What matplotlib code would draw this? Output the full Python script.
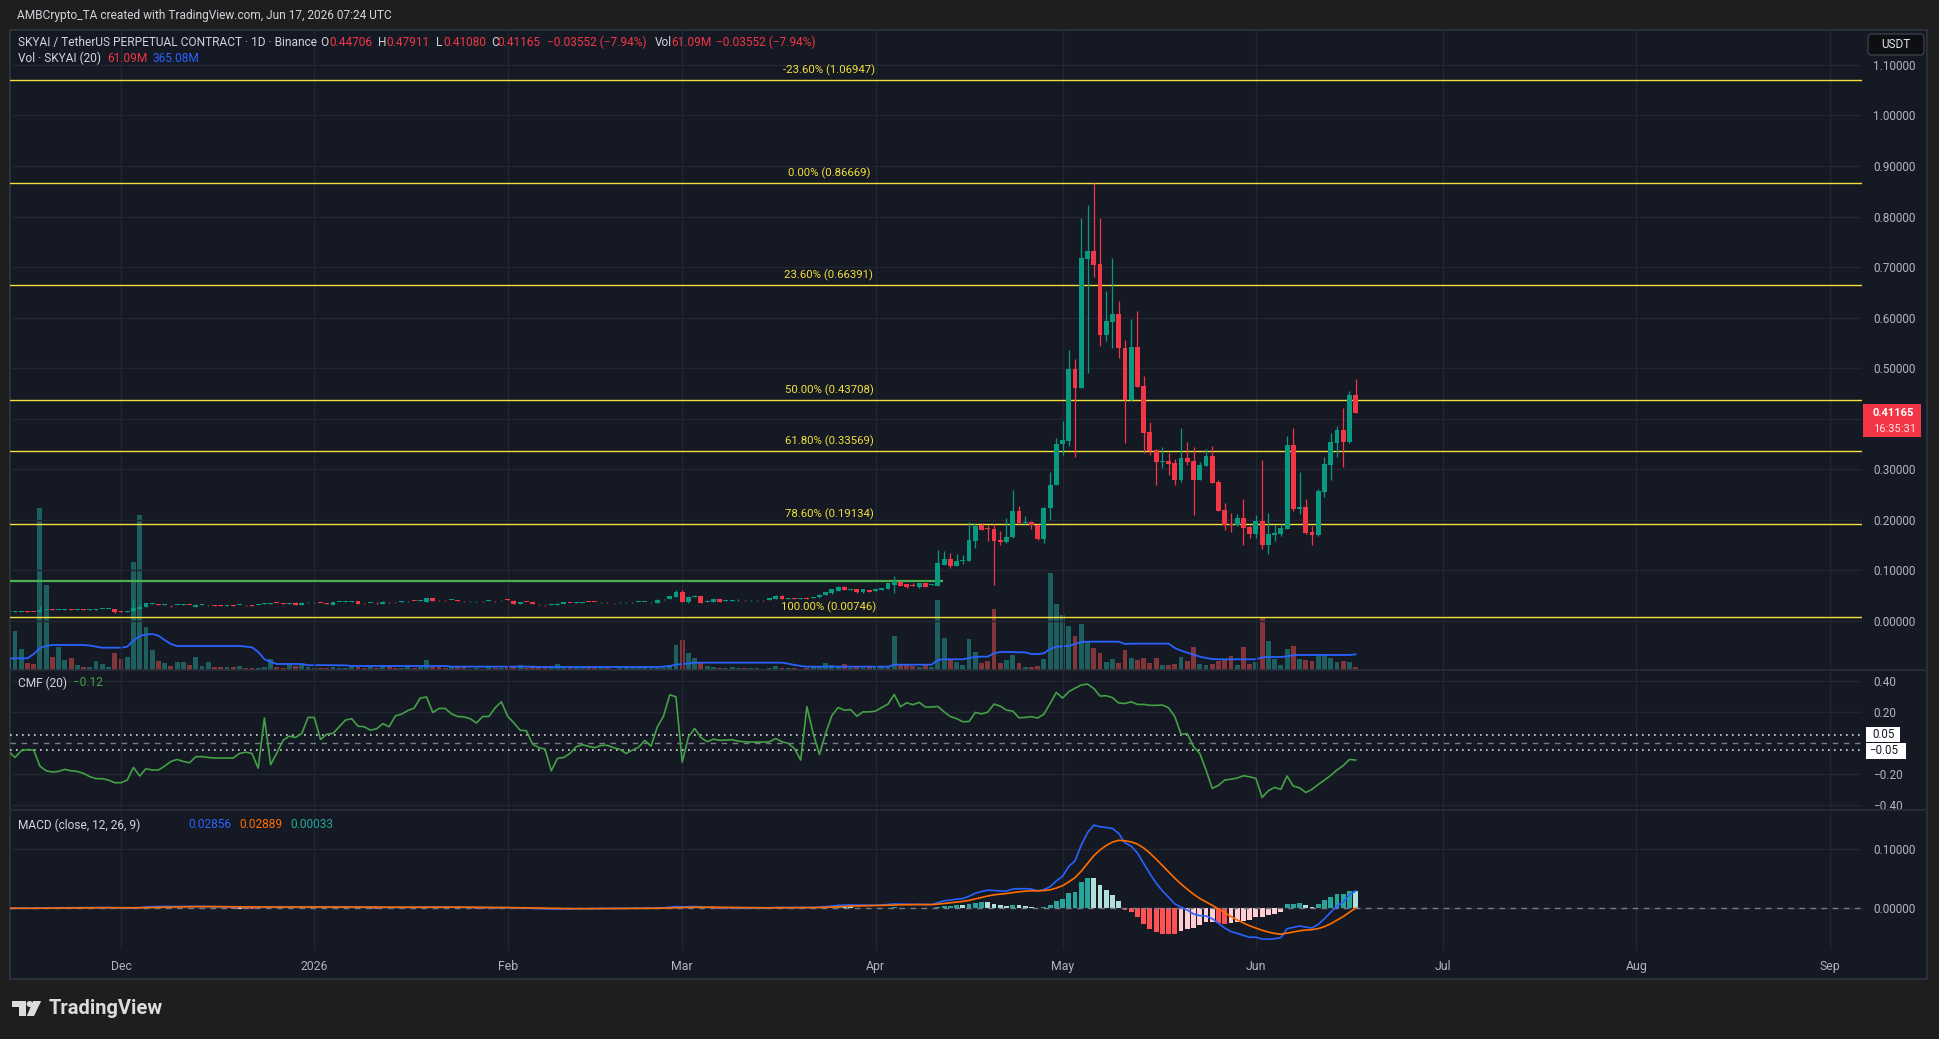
import numpy as np
import pandas as pd
import matplotlib
matplotlib.use("Agg")
import matplotlib.pyplot as plt
import matplotlib.dates as mdates
from matplotlib.patches import Rectangle, FancyBboxPatch, Polygon, Circle

plt.rcParams['font.family'] = ['Roboto', 'DejaVu Sans']

# ---------------- data (daily candles from 2025-11-13) ----------------
start_date = "2025-11-13"

open_ = [
 0.0180,0.0182,0.0186,0.0195,0.0180,0.0185,0.0218,0.0222,0.0215,0.0222,
 0.0226,0.0218,0.0224,0.0218,0.0226,0.0231,0.0235,0.0231,0.0185,0.0182,
 0.0190,0.0240,0.0284,0.0336,0.0336,0.0325,0.0300,0.0310,0.0317,0.0320,
 0.0284,0.0317,0.0308,0.0306,0.0306,0.0300,0.0305,0.0312,0.0312,0.0310,
 0.0318,0.0340,0.0345,0.0360,0.0348,0.0340,0.0363,0.0310,0.0366,0.0368,
 0.0360,0.0346,0.0323,0.0374,0.0376,0.0380,0.0396,0.0352,0.0352,0.0363,
 0.0343,0.0372,0.0372,0.0384,0.0386,0.0400,0.0392,0.0382,0.0455,0.0412,
 0.0412,0.0412,0.0409,0.0392,0.0386,0.0388,0.0392,0.0398,0.0392,0.0406,
 0.0420,0.0402,0.0343,0.0378,0.0376,0.0334,0.0314,0.0318,0.0310,0.0330,
 0.0360,0.0358,0.0365,0.0378,0.0378,0.0367,0.0372,0.0352,0.0366,0.0366,
 0.0368,0.0374,0.0374,0.0366,0.0363,0.0426,0.0429,0.0481,0.0574,0.0382,
 0.0470,0.0495,0.0370,0.0380,0.0430,0.0398,0.0398,0.0405,0.0412,0.0406,
 0.0406,0.0412,0.0410,0.0442,0.0500,0.0442,0.0458,0.0430,0.0462,0.0452,
 0.0468,0.0508,0.0547,0.0600,0.0679,0.0620,0.0627,0.0567,0.0613,0.0600,
 0.0613,0.0633,0.0712,0.0778,0.0732,0.0712,0.0666,0.0745,0.0712,0.0693,
 0.1108,0.1226,0.1090,0.1190,0.1187,0.1590,0.1890,0.1830,0.1820,0.1600,
 0.1570,0.1660,0.2180,0.1930,0.1960,0.1900,0.1620,0.2240,0.2690,0.3500,
 0.3560,0.4990,0.4610,0.7160,0.7320,0.7060,0.5660,0.5920,0.6070,0.5400,
 0.4370,0.5420,0.4650,0.3740,0.3380,0.3150,0.3160,0.3130,0.2790,0.3220,
 0.3160,0.2790,0.3070,0.3260,0.2750,0.2200,0.1920,0.1900,0.2040,0.1860,
 0.1720,0.1980,0.1500,0.1700,0.1720,0.1820,0.3480,0.2220,0.2260,0.1760,
 0.1700,0.2550,0.3090,0.3520,0.3780,0.3540,0.44706]

high_ = [
 0.0188,0.0192,0.0204,0.0198,0.0184,0.0297,0.0240,0.0228,0.0228,0.0232,
 0.0230,0.0230,0.0228,0.0232,0.0236,0.0242,0.0244,0.0236,0.0190,0.0206,
 0.0416,0.0330,0.0356,0.0348,0.0342,0.0336,0.0306,0.0322,0.0326,0.0324,
 0.0330,0.0326,0.0318,0.0310,0.0310,0.0310,0.0308,0.0322,0.0316,0.0314,
 0.0328,0.0356,0.0358,0.0364,0.0352,0.0350,0.0368,0.0368,0.0378,0.0380,
 0.0364,0.0350,0.0382,0.0384,0.0386,0.0390,0.0400,0.0356,0.0362,0.0366,
 0.0388,0.0376,0.0376,0.0398,0.0396,0.0404,0.0406,0.0462,0.0460,0.0416,
 0.0416,0.0424,0.0412,0.0396,0.0396,0.0396,0.0396,0.0408,0.0396,0.0416,
 0.0428,0.0406,0.0382,0.0382,0.0380,0.0338,0.0318,0.0328,0.0348,0.0374,
 0.0364,0.0368,0.0374,0.0382,0.0382,0.0376,0.0376,0.0356,0.0376,0.0376,
 0.0376,0.0382,0.0384,0.0376,0.0428,0.0438,0.0502,0.0613,0.0613,0.0474,
 0.0510,0.0500,0.0406,0.0436,0.0434,0.0410,0.0410,0.0442,0.0416,0.0414,
 0.0414,0.0416,0.0452,0.0504,0.0504,0.0452,0.0462,0.0462,0.0466,0.0472,
 0.0524,0.0578,0.0632,0.0686,0.0684,0.0632,0.0632,0.0632,0.0618,0.0632,
 0.0656,0.0750,0.0880,0.0800,0.0740,0.0750,0.0750,0.0760,0.0740,0.1400,
 0.1380,0.1350,0.1330,0.1310,0.1960,0.1940,0.1930,0.1890,0.1920,0.1780,
 0.2040,0.2590,0.2280,0.2080,0.1970,0.1910,0.2260,0.2950,0.3620,0.3960,
 0.5360,0.5180,0.7970,0.8230,0.8667,0.7970,0.6530,0.7180,0.6330,0.5560,
 0.5980,0.6130,0.4850,0.3940,0.3410,0.3440,0.3320,0.3200,0.3820,0.3540,
 0.3440,0.3150,0.3400,0.3460,0.2790,0.2340,0.2140,0.2120,0.2410,0.1870,
 0.2100,0.3180,0.2140,0.1900,0.1910,0.3660,0.3820,0.2950,0.2410,0.1880,
 0.2610,0.3240,0.3720,0.3860,0.4210,0.4550,0.47911]

low_ = [
 0.0174,0.0178,0.0182,0.0170,0.0170,0.0180,0.0212,0.0210,0.0212,0.0218,
 0.0212,0.0215,0.0214,0.0215,0.0222,0.0228,0.0230,0.0162,0.0176,0.0178,
 0.0186,0.0232,0.0280,0.0330,0.0312,0.0320,0.0280,0.0306,0.0312,0.0308,
 0.0280,0.0312,0.0304,0.0296,0.0296,0.0296,0.0296,0.0308,0.0302,0.0300,
 0.0314,0.0336,0.0340,0.0350,0.0338,0.0336,0.0306,0.0306,0.0362,0.0364,
 0.0350,0.0336,0.0320,0.0370,0.0372,0.0376,0.0338,0.0342,0.0348,0.0344,
 0.0340,0.0362,0.0362,0.0380,0.0382,0.0390,0.0388,0.0378,0.0398,0.0402,
 0.0402,0.0408,0.0392,0.0382,0.0382,0.0384,0.0382,0.0394,0.0382,0.0402,
 0.0410,0.0336,0.0338,0.0368,0.0326,0.0324,0.0302,0.0312,0.0306,0.0326,
 0.0350,0.0354,0.0360,0.0368,0.0368,0.0362,0.0362,0.0342,0.0362,0.0362,
 0.0364,0.0370,0.0370,0.0362,0.0360,0.0422,0.0425,0.0476,0.0376,0.0349,
 0.0466,0.0358,0.0366,0.0376,0.0376,0.0394,0.0394,0.0400,0.0404,0.0402,
 0.0402,0.0404,0.0406,0.0438,0.0438,0.0438,0.0425,0.0426,0.0436,0.0448,
 0.0464,0.0504,0.0542,0.0596,0.0608,0.0616,0.0563,0.0563,0.0576,0.0596,
 0.0608,0.0628,0.0550,0.0686,0.0660,0.0688,0.0660,0.0672,0.0706,0.0690,
 0.1100,0.1050,0.1080,0.1130,0.1180,0.1450,0.1790,0.1590,0.0710,0.1510,
 0.1550,0.1640,0.1920,0.1920,0.1810,0.1610,0.1550,0.2000,0.2680,0.3280,
 0.3470,0.3250,0.4600,0.4910,0.6810,0.5430,0.5530,0.5390,0.5210,0.3530,
 0.4360,0.4620,0.3320,0.3290,0.2690,0.3030,0.2880,0.2690,0.2750,0.3090,
 0.2100,0.2780,0.3060,0.2720,0.2170,0.1800,0.1750,0.1870,0.1500,0.1650,
 0.1650,0.1430,0.1330,0.1580,0.1680,0.1810,0.2180,0.2120,0.1730,0.1500,
 0.1680,0.2450,0.2790,0.3240,0.3050,0.3530,0.41080]

close_ = [
 0.0182,0.0188,0.0198,0.0175,0.0175,0.0218,0.0222,0.0215,0.0222,0.0226,
 0.0218,0.0224,0.0218,0.0226,0.0231,0.0237,0.0239,0.0168,0.0180,0.0200,
 0.0251,0.0284,0.0349,0.0340,0.0317,0.0330,0.0287,0.0317,0.0320,0.0314,
 0.0323,0.0321,0.0313,0.0300,0.0300,0.0305,0.0300,0.0318,0.0306,0.0305,
 0.0324,0.0349,0.0352,0.0354,0.0342,0.0346,0.0310,0.0363,0.0372,0.0374,
 0.0354,0.0340,0.0376,0.0379,0.0380,0.0384,0.0343,0.0347,0.0358,0.0349,
 0.0382,0.0367,0.0367,0.0392,0.0392,0.0394,0.0400,0.0455,0.0402,0.0406,
 0.0406,0.0418,0.0396,0.0386,0.0392,0.0392,0.0386,0.0404,0.0386,0.0412,
 0.0414,0.0343,0.0376,0.0372,0.0330,0.0328,0.0308,0.0324,0.0343,0.0369,
 0.0354,0.0364,0.0370,0.0372,0.0372,0.0372,0.0366,0.0346,0.0371,0.0371,
 0.0372,0.0378,0.0379,0.0372,0.0422,0.0432,0.0495,0.0574,0.0382,0.0468,
 0.0500,0.0363,0.0400,0.0430,0.0380,0.0404,0.0404,0.0412,0.0408,0.0410,
 0.0410,0.0408,0.0448,0.0500,0.0442,0.0448,0.0430,0.0458,0.0440,0.0468,
 0.0521,0.0574,0.0627,0.0679,0.0613,0.0627,0.0567,0.0627,0.0580,0.0627,
 0.0653,0.0745,0.0798,0.0692,0.0666,0.0692,0.0745,0.0679,0.0720,0.1147,
 0.1226,0.1090,0.1190,0.1200,0.1602,0.1880,0.1800,0.1820,0.1590,0.1570,
 0.1660,0.2180,0.1930,0.1960,0.1890,0.1620,0.2240,0.2690,0.3500,0.3580,
 0.4990,0.4610,0.7180,0.7320,0.7040,0.5660,0.5940,0.6070,0.5390,0.4370,
 0.5420,0.4630,0.3720,0.3360,0.3150,0.3160,0.3110,0.2790,0.3220,0.3150,
 0.2790,0.3090,0.3260,0.2730,0.2180,0.1900,0.1900,0.2040,0.1840,0.1720,
 0.1980,0.1500,0.1720,0.1740,0.1840,0.3480,0.2220,0.2260,0.1740,0.1700,
 0.2570,0.3110,0.3540,0.3780,0.3540,0.4470,0.41165]

# volume in millions
volume_m = [
 256,917,497,155,140,3780,1990,311,544,241,
 287,124,78,78,218,140,78,389,256,311,
 2525,3600,1010,474,218,171,101,194,194,124,
 311,101,179,78,78,78,78,101,54,54,
 54,78,264,78,54,124,101,124,78,54,
 54,54,78,54,54,78,78,54,93,54,
 124,93,54,54,78,54,62,241,78,78,
 54,78,78,78,31,54,31,78,54,54,
 101,78,124,54,78,78,54,54,148,54,
 54,54,54,78,54,54,54,31,54,54,
 54,54,54,54,54,54,124,590,707,404,
 287,194,101,78,54,54,78,54,54,54,
 54,31,54,101,54,54,54,31,54,78,
 101,171,124,78,148,54,78,54,78,78,
 78,78,800,148,148,101,78,148,78,1640,
 754,241,194,124,730,427,171,218,1430,171,
 241,357,171,78,78,101,264,2270,1546,1290,
 1033,800,1080,684,520,404,194,264,171,474,
 287,241,287,171,287,124,124,148,311,218,
 544,148,124,148,218,241,334,124,544,148,
 194,1243,684,264,124,497,567,264,241,218,
 334,381,287,194,218,194,61]

# volume moving average (20), millions
volume_ma_m = [
 272,272,272,272,373,513,560,583,583,583,
 583,583,583,570,544,520,520,520,520,544,
 684,793,824,839,800,699,606,560,560,560,
 560,560,560,560,560,560,560,560,544,530,
 420,250,190,140,140,140,140,140,112,112,
 112,112,112,109,109,93,93,93,93,93,
 93,93,93,93,93,93,93,93,93,93,
 93,78,78,78,78,78,78,78,78,78,
 78,78,78,78,78,70,70,70,70,70,
 70,70,70,70,70,70,70,70,70,70,
 70,70,70,70,70,78,93,124,140,148,
 171,171,171,171,171,171,171,171,171,171,
 171,171,171,171,171,148,117,93,78,78,
 78,78,78,78,78,78,78,78,78,78,
 78,78,124,124,124,124,124,124,124,233,
 249,249,249,249,280,303,311,311,389,420,
 420,420,412,412,373,373,389,490,544,552,
 560,606,653,660,660,660,660,660,660,606,
 614,614,614,614,614,614,614,513,451,404,
 357,311,280,256,249,249,249,249,249,249,
 249,295,303,303,303,319,342,350,350,350,
 350,350,350,350,350,350,365]

cmf_values = [
 -0.059,-0.096,-0.053,-0.045,-0.049,-0.152,-0.182,-0.190,-0.186,-0.173,
 -0.182,-0.186,-0.199,-0.220,-0.233,-0.233,-0.242,-0.259,-0.259,-0.242,
 -0.160,-0.216,-0.169,-0.177,-0.177,-0.152,-0.122,-0.109,-0.122,-0.130,
 -0.091,-0.091,-0.096,-0.100,-0.100,-0.100,-0.100,-0.070,-0.062,-0.070,
 -0.165,0.158,-0.143,-0.066,0.015,0.041,0.033,0.059,0.162,0.162,
 0.020,0.054,0.059,0.102,0.145,0.154,0.106,0.102,0.080,0.089,
 0.122,0.102,0.172,0.183,0.207,0.222,0.287,0.294,0.194,0.220,
 0.220,0.185,0.168,0.166,0.154,0.126,0.168,0.168,0.224,0.263,
 0.170,0.127,0.080,0.076,-0.010,-0.033,-0.042,-0.182,-0.102,-0.096,
 -0.070,-0.027,-0.014,-0.025,-0.033,-0.018,-0.018,-0.033,-0.044,-0.070,
 -0.049,-0.031,0.014,-0.023,0.100,0.170,0.308,0.295,-0.126,0.037,
 0.091,0.033,0.005,0.022,0.014,0.016,0.018,0.009,0.005,0.003,
 0.003,0.003,0.005,0.026,0.005,-0.005,-0.038,-0.113,0.231,0.059,
 -0.076,0.059,0.174,0.226,0.209,0.213,0.170,0.198,0.198,0.203,
 0.226,0.248,0.310,0.231,0.257,0.244,0.259,0.229,0.229,0.233,
 0.198,0.168,0.155,0.134,0.136,0.194,0.185,0.196,0.248,0.235,
 0.209,0.203,0.160,0.162,0.167,0.158,0.183,0.252,0.323,0.287,
 0.328,0.351,0.371,0.377,0.349,0.300,0.302,0.290,0.255,0.252,
 0.263,0.246,0.246,0.240,0.240,0.242,0.224,0.167,0.053,0.057,
 -0.027,-0.070,-0.177,-0.296,-0.276,-0.242,-0.236,-0.229,-0.214,-0.221,
 -0.231,-0.354,-0.311,-0.289,-0.302,-0.216,-0.281,-0.292,-0.322,-0.302,
 -0.270,-0.242,-0.212,-0.177,-0.149,-0.109,-0.113]

fib_pct = ["-23.60%", "0.00%", "23.60%", "50.00%", "61.80%", "78.60%", "100.00%"]
fib_levels = [1.06947, 0.86669, 0.66391, 0.43708, 0.33569, 0.19134, 0.00746]

green_line_price = 0.0797
green_line_end = "2026-04-11 19:00"

month_starts = ["2025-12-01", "2026-01-01", "2026-02-01", "2026-03-01", "2026-04-01",
                "2026-05-01", "2026-06-01", "2026-07-01", "2026-08-01", "2026-09-01"]
month_labels = ["Dec", "2026", "Feb", "Mar", "Apr", "May", "Jun", "Jul", "Aug", "Sep"]

price_ticks = [0.0, 0.1, 0.2, 0.3, 0.4, 0.5, 0.6, 0.7, 0.8, 0.9, 1.0, 1.1]
cmf_ticks = [-0.4, -0.2, 0.2, 0.4]
macd_ticks = [0.0, 0.1]

# ---------------- figure ----------------
W, H = 1940, 1039
fig = plt.figure(figsize=(W / 100, H / 100), dpi=100)
fig.patch.set_facecolor('#1e1e1e')

BG = '#151924'
GRID = '#222632'
TXT = '#b2b5be'
UP = '#089981'
DN = '#f23645'
FIBC = '#f2df3c'

bg = fig.add_axes([0, 0, 1, 1], zorder=-10)
bg.set_xlim(0, W); bg.set_ylim(H, 0); bg.axis('off')
bg.add_patch(Rectangle((10, 30), 1917, 949, facecolor=BG, edgecolor='#30343f', lw=1.2))


def axrect(top, bottom, left=10, right=1862):
    return [left / W, 1 - bottom / H, (right - left) / W, (bottom - top) / H]


ax_v = fig.add_axes(axrect(30, 670), zorder=1)
ax_p = fig.add_axes(axrect(30, 670), zorder=2, sharex=ax_v)
ax_c = fig.add_axes(axrect(670, 810), zorder=2, sharex=ax_v)
ax_m = fig.add_axes(axrect(810, 950), zorder=2, sharex=ax_v)
for a in (ax_v, ax_p, ax_c, ax_m):
    a.set_facecolor('none')
    for s in a.spines.values():
        s.set_visible(False)

O = np.array(open_); Hh = np.array(high_); L = np.array(low_); C = np.array(close_)
dates = pd.date_range(start_date, periods=len(C), freq='D')
x = mdates.date2num(dates)
up = C >= O
col = np.where(up, UP, DN)

x0 = x[0]
ax_v.set_xlim(x0 + 0.2, x0 + 297.2)
mt = mdates.date2num(pd.to_datetime(month_starts))

# volume
vol = np.array(volume_m)
vcol = [(0.149, 0.651, 0.604, 0.5) if u else (0.937, 0.325, 0.314, 0.5) for u in up]
ax_v.bar(x, vol, width=0.78, color=vcol, linewidth=0)
ax_v.plot(x, volume_ma_m, color='#2962ff', lw=1.3)
ax_v.set_ylim(0, 640 * 23.3)
ax_v.axis('off')

# price
ax_p.set_ylim(-0.097, 1.169)
ax_p.set_xticks(mt)
ax_p.grid(True, color=GRID, lw=1)
ax_p.set_axisbelow(True)
ax_p.vlines(x, L, Hh, colors=col, lw=0.9, zorder=3)
body_b = np.minimum(O, C)
body_h = np.maximum(np.abs(C - O), 0.0016)
ax_p.bar(x, body_h, bottom=body_b, width=0.78, color=col, linewidth=0, zorder=4)

for pct, lv in zip(fib_pct, fib_levels):
    ax_p.axhline(lv, color=FIBC, lw=1.0, zorder=2)
    ax_p.annotate(f"{pct} ({lv:.5f})", xy=(0.4422, lv),
                  xycoords=('axes fraction', 'data'), xytext=(0, 3),
                  textcoords='offset points', ha='center', va='bottom',
                  color=FIBC, fontsize=8.2, zorder=5)
ax_p.hlines(green_line_price, x0 - 5, mdates.date2num(pd.Timestamp(green_line_end)),
            color='#4caf50', lw=1.6, zorder=2)

ax_p.yaxis.tick_right()
ax_p.set_yticks(price_ticks)
ax_p.set_yticklabels([f"{t:.5f}" for t in price_ticks])
ax_p.tick_params(axis='y', length=0, pad=8, labelsize=8.5, labelcolor=TXT)
ax_p.tick_params(axis='x', length=0, labelbottom=False)

# CMF
ax_c.set_ylim(-0.435, 0.468)
ax_c.set_xticks(mt)
ax_c.grid(True, color=GRID, lw=1)
ax_c.set_axisbelow(True)
ax_c.axhline(0, color='#787b86', lw=1, ls=(0, (4, 4)))
ax_c.axhline(0.05, color='#d8d8d8', lw=1.2, ls=(0, (1, 2.6)))
ax_c.axhline(-0.05, color='#d8d8d8', lw=1.2, ls=(0, (1, 2.6)))
ax_c.plot(x, cmf_values, color='#43a047', lw=1.2)
ax_c.yaxis.tick_right()
ax_c.set_yticks(cmf_ticks)
ax_c.set_yticklabels([f"{t:.2f}".replace('-', '\u2212') for t in cmf_ticks])
ax_c.tick_params(axis='y', length=0, pad=8, labelsize=8.5, labelcolor=TXT)
ax_c.tick_params(axis='x', length=0, labelbottom=False)

# MACD (standard EMA definition from closes)
cs = pd.Series(C)
macd = (cs.ewm(span=12, adjust=False).mean() - cs.ewm(span=26, adjust=False).mean()).values
signal = pd.Series(macd).ewm(span=9, adjust=False).mean().values
hist = macd - signal
hcol = []
for i, hv in enumerate(hist):
    prev = hist[i - 1] if i > 0 else 0
    if hv >= 0:
        hcol.append('#26a69a' if hv >= prev else '#b2dfdb')
    else:
        hcol.append('#ffcdd2' if hv >= prev else '#ff5252')
ax_m.set_ylim(-0.0707, 0.1666)
ax_m.set_xticks(mt)
ax_m.grid(True, color=GRID, lw=1)
ax_m.set_axisbelow(True)
ax_m.axhline(0, color='#787b86', lw=1, ls=(0, (4, 4)))
ax_m.bar(x, hist, width=0.78, color=hcol, linewidth=0)
ax_m.plot(x, macd, color='#2962ff', lw=1.2)
ax_m.plot(x, signal, color='#ff6d00', lw=1.2)
ax_m.yaxis.tick_right()
ax_m.set_yticks(macd_ticks)
ax_m.set_yticklabels([f"{t:.5f}" for t in macd_ticks])
ax_m.tick_params(axis='y', length=0, pad=8, labelsize=8.5, labelcolor=TXT)
ax_m.set_xticklabels(month_labels)
ax_m.tick_params(axis='x', length=0, pad=7, labelsize=8.8, labelcolor=TXT)

# ---------------- overlay texts & decorations (pixel coords) ----------------
ov = fig.add_axes([0, 0, 1, 1], zorder=20)
ov.set_xlim(0, W); ov.set_ylim(H, 0); ov.axis('off')

for yy in (670, 810):
    ov.plot([10, 1927], [yy, yy], color='#2a2e39', lw=1.2)

LT = '#d1d4dc'
fs = 8.6
ov.text(17, 15, "AMBCrypto_TA created with TradingView.com, Jun 17, 2026 07:24 UTC",
        color=LT, fontsize=fs, va='center', ha='left')

y1 = 42.5
segs = [(18, "SKYAI / TetherUS PERPETUAL CONTRACT \u00b7 1D \u00b7 Binance", LT),
        (320, "O", LT), (329, "0.44706", DN),
        (378, "H", LT), (386, "0.47911", DN),
        (436, "L", LT), (443, "0.41080", DN),
        (491, "C", LT), (497, "0.41165", DN),
        (547, "\u22120.03552 (\u22127.94%)", DN),
        (655, "Vol", LT), (671, "61.09M", DN),
        (716, "\u22120.03552 (\u22127.94%)", DN)]
for sx, s, c in segs:
    ov.text(sx, y1, s, color=c, fontsize=fs, va='center', ha='left')

ov.text(18, 58, "Vol \u00b7 SKYAI (20)", color=LT, fontsize=fs, va='center')
ov.text(107, 58, "61.09M", color=DN, fontsize=fs, va='center')
ov.text(153, 58, "365.08M", color='#2962ff', fontsize=fs, va='center')

ov.text(18, 683, "CMF (20)", color=LT, fontsize=fs, va='center')
ov.text(73, 683, "\u22120.12", color='#43a047', fontsize=fs, va='center')

ov.text(18, 825, "MACD (close, 12, 26, 9)", color=LT, fontsize=fs, va='center')
ov.text(188, 825, "0.02856", color='#2962ff', fontsize=fs, va='center')
ov.text(239, 825, "0.02889", color='#ff6d00', fontsize=fs, va='center')
ov.text(290, 825, "0.00033", color='#26a69a', fontsize=fs, va='center')

# USDT box
ov.add_patch(FancyBboxPatch((1868, 34), 56, 21, boxstyle="round,pad=0,rounding_size=4",
                            facecolor='#0e0f13', edgecolor='#3a3d45', lw=1))
ov.text(1896, 44.5, "USDT", color='#e0e3eb', fontsize=8.5, ha='center', va='center')

# last price tag
ov.add_patch(Rectangle((1863, 404), 58, 33, facecolor='#f23645', edgecolor='none'))
ov.text(1873, 412.5, "0.41165", color='white', fontsize=8.0, fontweight='bold', va='center')
ov.text(1873, 428.5, "16:35:31", color='#ffe5e7', fontsize=8.0, va='center')

# CMF band labels
ov.add_patch(Rectangle((1866, 727), 34, 15, facecolor='white', edgecolor='none'))
ov.text(1872, 734.5, "0.05", color='#131722', fontsize=8.3, va='center')
ov.add_patch(Rectangle((1866, 743), 40, 16, facecolor='white', edgecolor='none'))
ov.text(1869, 751, "\u22120.05", color='#131722', fontsize=8.3, va='center')

# TradingView logo
LC = '#dcdcdc'
ov.add_patch(Rectangle((12.3, 1001), 13.7, 5.6, facecolor=LC, edgecolor='none'))
ov.add_patch(Rectangle((19.3, 1001), 6.7, 15, facecolor=LC, edgecolor='none'))
ov.add_patch(Circle((29.6, 1004), 3.0, facecolor=LC, edgecolor='none'))
ov.add_patch(Polygon([(33, 1001), (41.2, 1001), (34, 1016), (26.8, 1016)], closed=True,
                     facecolor=LC, edgecolor='none'))
ov.text(48.5, 1008.5, "TradingView", color=LC, fontsize=14.5, fontweight='bold',
        va='center', ha='left')

fig.savefig("out.png", dpi=100, facecolor=fig.get_facecolor())
